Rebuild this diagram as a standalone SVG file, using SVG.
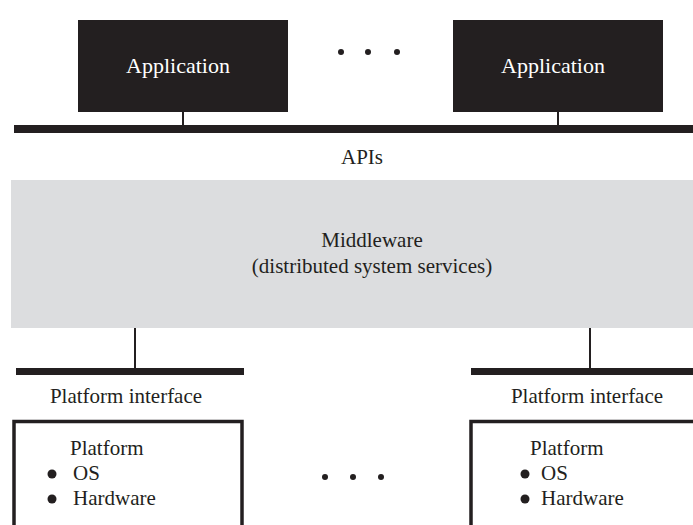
<svg xmlns="http://www.w3.org/2000/svg" width="693" height="525" viewBox="0 0 693 525">
  <style>
    text { font-family: "Liberation Serif", "Times New Roman", serif; font-size: 21px; fill: #231f20; }
    .app-box { fill: #231f20; }
    .app-label { fill: #ffffff; text-anchor: middle; font-size: 22px; }
    .mid { text-anchor: middle; }
    .bus { fill: #231f20; }
    .link { stroke: #231f20; stroke-width: 2; fill: none; }
    .plat-box { fill: #ffffff; stroke: #231f20; stroke-width: 3.5; }
    .dot { fill: #231f20; }
  </style>

  <!-- applications -->
  <g id="app-left">
    <rect class="app-box" x="78" y="20" width="210" height="92"/>
    <text class="app-label" x="178" y="73">Application</text>
  </g>
  <g id="app-dots">
    <circle class="dot" cx="341" cy="52" r="3"/>
    <circle class="dot" cx="368" cy="52" r="3"/>
    <circle class="dot" cx="397" cy="52" r="3"/>
  </g>
  <g id="app-right">
    <rect class="app-box" x="453" y="20" width="210" height="92"/>
    <text class="app-label" x="553" y="73">Application</text>
  </g>

  <!-- API bus -->
  <g id="api-bus">
    <rect class="bus" x="14" y="125" width="679" height="8"/>
    <text class="mid" x="362" y="164">APIs</text>
  </g>

  <!-- middleware layer -->
  <g id="middleware">
    <rect x="11" y="180" width="682" height="148" fill="#dcdddf"/>
    <text class="mid" x="372" y="247">Middleware</text>
    <text class="mid" x="372" y="273">(distributed system services)</text>
  </g>

  <!-- platform interface buses -->
  <g id="pi-left">
    <rect class="bus" x="16" y="368" width="228" height="7"/>
    <text class="mid" x="126" y="403">Platform interface</text>
  </g>
  <g id="pi-right">
    <rect class="bus" x="471" y="368" width="222" height="7"/>
    <text class="mid" x="587" y="403">Platform interface</text>
  </g>

  <!-- platforms -->
  <g id="platform-left">
    <rect class="plat-box" x="14" y="421.5" width="228" height="120"/>
    <text x="70" y="455">Platform</text>
    <circle class="dot" cx="52" cy="474" r="4.5"/>
    <text x="73" y="480">OS</text>
    <circle class="dot" cx="52" cy="499" r="4.5"/>
    <text x="73" y="505">Hardware</text>
  </g>
  <g id="platform-dots">
    <circle class="dot" cx="325" cy="477" r="3"/>
    <circle class="dot" cx="353" cy="477" r="3"/>
    <circle class="dot" cx="381" cy="477" r="3"/>
  </g>
  <g id="platform-right">
    <rect class="plat-box" x="471" y="421.5" width="240" height="120"/>
    <text x="530" y="455">Platform</text>
    <circle class="dot" cx="525" cy="474" r="4.5"/>
    <text x="541" y="480">OS</text>
    <circle class="dot" cx="525" cy="499" r="4.5"/>
    <text x="541" y="505">Hardware</text>
  </g>

  <!-- connectors -->
  <g id="connectors">
    <line class="link" x1="183" y1="112" x2="183" y2="126"/>
    <line class="link" x1="558" y1="112" x2="558" y2="126"/>
    <line class="link" x1="135" y1="328" x2="135" y2="369"/>
    <line class="link" x1="590" y1="328" x2="590" y2="369"/>
  </g>
</svg>
